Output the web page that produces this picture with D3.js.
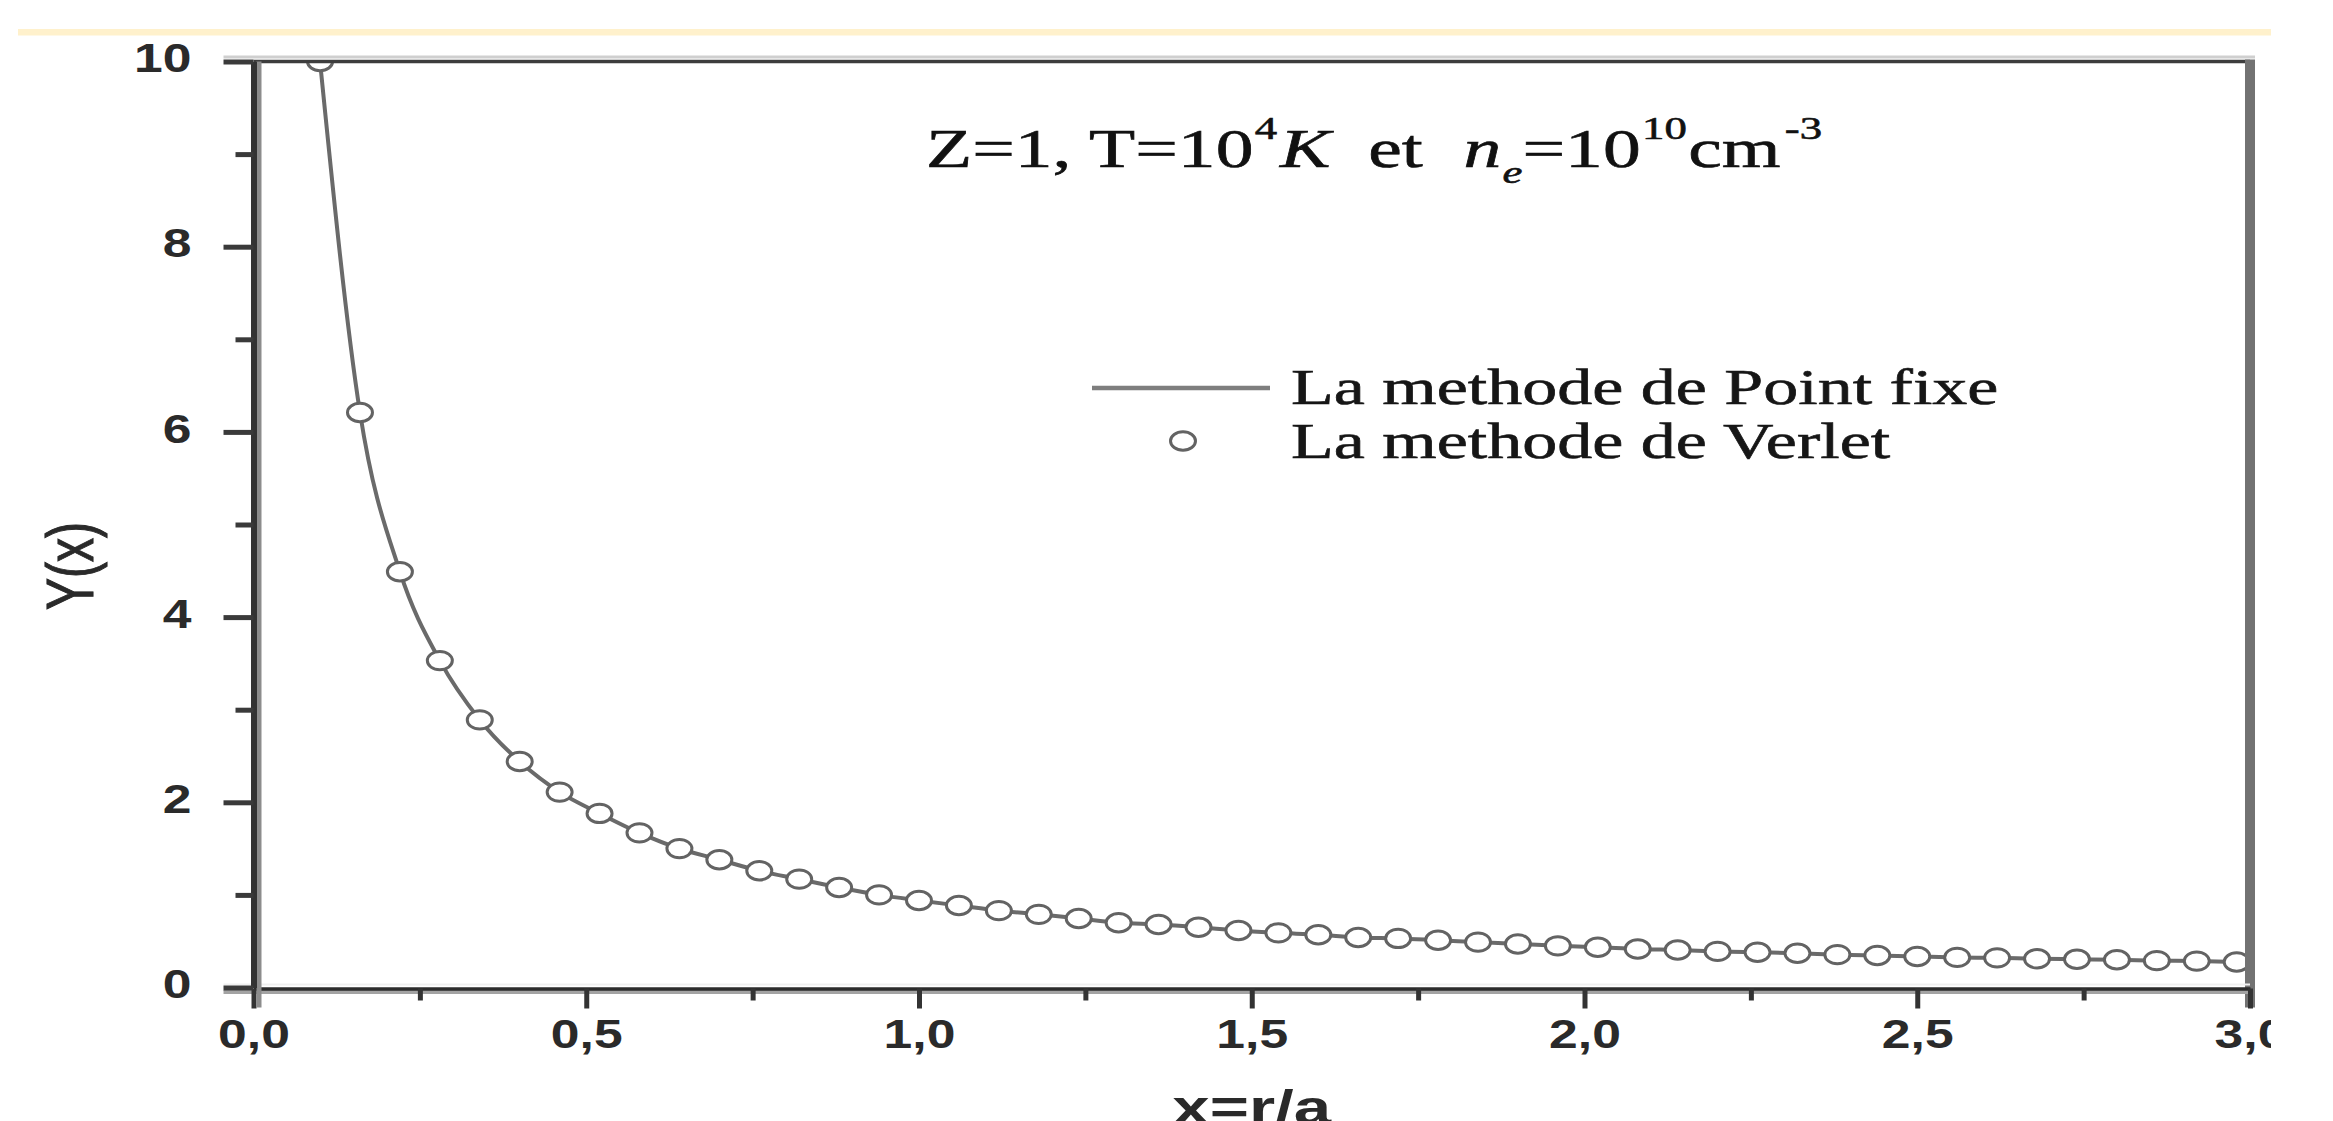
<!DOCTYPE html>
<html>
<head>
<meta charset="utf-8">
<script src="https://cdn.jsdelivr.net/npm/d3@7"></script>
<style>
	body {margin: 0; background: #fff; overflow: hidden;}
	svg {display: block;}
</style>
</head>
<body>
<div id="graph"></div>
<script>
// Points (x = r/a, Y(x))
var x_values = [0.10, 0.16, 0.22, 0.28, 0.34, 0.40, 0.46, 0.52, 0.58, 0.64,
	0.70, 0.76, 0.82, 0.88, 0.94, 1.00, 1.06, 1.12, 1.18, 1.24,
	1.30, 1.36, 1.42, 1.48, 1.54, 1.60, 1.66, 1.72, 1.78, 1.84,
	1.90, 1.96, 2.02, 2.08, 2.14, 2.20, 2.26, 2.32, 2.38, 2.44,
	2.50, 2.56, 2.62, 2.68, 2.74, 2.80, 2.86, 2.92, 2.98];
var y_values = [10.0, 6.21, 4.49, 3.53, 2.89, 2.44, 2.11, 1.88, 1.67, 1.50,
	1.38, 1.26, 1.17, 1.08, 1.00, 0.94, 0.885, 0.83, 0.79, 0.745,
	0.70, 0.68, 0.65, 0.615, 0.59, 0.57, 0.54, 0.53, 0.51, 0.49,
	0.47, 0.45, 0.435, 0.415, 0.405, 0.39, 0.38, 0.37, 0.355, 0.345,
	0.335, 0.325, 0.32, 0.31, 0.305, 0.30, 0.29, 0.285, 0.275];

var x_ticks = [0, 0.5, 1, 1.5, 2, 2.5, 3];
var x_tick_labels = ["0,0", "0,5", "1,0", "1,5", "2,0", "2,5", "3,0"];
var x_minor = [0.25, 0.75, 1.25, 1.75, 2.25, 2.75];
var y_ticks = [0, 2, 4, 6, 8, 10];
var y_tick_labels = ["0", "2", "4", "6", "8", "10"];
var y_minor = [1, 3, 5, 7, 9];

var title_parts = ["Z=1, T=10", "4", "K", "et", "n", "e", "=10", "10", "cm", "-3"];
var legend_labels = ["La methode de Point fixe", "La methode de Verlet"];
var x_label = "x=r/a";
var y_label = "Y(x)";

var width = 2333, height = 1121;
var sx = 1.4;		// the scanned figure is stretched sideways
var tick_sx = 1.26;	// tick digits look a bit narrower
var sans = "'Liberation Sans', Arial, sans-serif";
var serif = "'Liberation Serif', 'Times New Roman', serif";

var scale_x = d3.scaleLinear().domain([0, 3]).range([253.5, 2250]);
var scale_y = d3.scaleLinear().domain([0, 10]).range([987.5, 61.5]);

var svg = d3.select("#graph").append("svg")
	.attr("width", width)
	.attr("height", height);

var defs = svg.append("defs");
defs.append("clipPath").attr("id", "page")
	.append("rect").attr("x", 0).attr("y", 0).attr("width", 2271).attr("height", height);
defs.append("clipPath").attr("id", "plot")
	.append("rect")
	.attr("x", scale_x(0)).attr("y", scale_y(10))
	.attr("width", scale_x(3) - scale_x(0))
	.attr("height", scale_y(0) - scale_y(10));

var g = svg.append("g").attr("clip-path", "url(#page)");

// pale yellow strip at the top of the scan
g.append("rect")
	.attr("x", 18).attr("y", 29)
	.attr("width", 2253).attr("height", 6.5)
	.attr("fill", "#fff1cc");

// Curve + markers
var line = d3.line()
	.x(function(d, i) {return scale_x(x_values[i]);})
	.y(function(d) {return scale_y(d);})
	.curve(d3.curveMonotoneX);

var plot = g.append("g").attr("clip-path", "url(#plot)");

plot.append("path")
	.attr("fill", "none")
	.attr("stroke", "#6a6a6a")
	.attr("stroke-width", 4)
	.attr("d", line(y_values));

plot.selectAll("ellipse")
	.data(y_values)
	.enter()
	.append("ellipse")
	.attr("cx", function(d, i) {return scale_x(x_values[i]);})
	.attr("cy", function(d) {return scale_y(d);})
	.attr("rx", 12.5)
	.attr("ry", 9.2)
	.attr("fill", "#fff")
	.attr("stroke", "#636363")
	.attr("stroke-width", 3);

// Frame: top and right
g.append("line")
	.attr("x1", scale_x(0) - 30).attr("x2", scale_x(3) + 5)
	.attr("y1", scale_y(10) - 4.5).attr("y2", scale_y(10) - 4.5)
	.attr("stroke", "#cfcfcf").attr("stroke-width", 3);
g.append("line")
	.attr("x1", scale_x(0)).attr("x2", scale_x(3))
	.attr("y1", scale_y(10)).attr("y2", scale_y(10))
	.attr("stroke", "#3d3d3d").attr("stroke-width", 3.5);
g.append("line")
	.attr("x1", scale_x(3)).attr("x2", scale_x(3))
	.attr("y1", scale_y(10) - 2).attr("y2", scale_y(0) + 20)
	.attr("stroke", "#727272").attr("stroke-width", 10);

// Bottom axis
g.append("line")
	.attr("x1", scale_x(0) - 30).attr("x2", scale_x(3))
	.attr("y1", scale_y(0) - 3).attr("y2", scale_y(0) - 3)
	.attr("stroke", "#efefef").attr("stroke-width", 2);
g.append("line")
	.attr("x1", scale_x(0) - 30).attr("x2", scale_x(3))
	.attr("y1", scale_y(0) + 4.5).attr("y2", scale_y(0) + 4.5)
	.attr("stroke", "#a3a3a3").attr("stroke-width", 4);

var x_axis = g.append("g")
	.attr("transform", "translate(0," + (scale_y(0) + 1) + ")")
	.call(d3.axisBottom(scale_x).tickValues(x_ticks).tickSize(20).tickSizeOuter(0).tickFormat(""));
x_axis.select(".domain").attr("stroke", "#2b2b2b").attr("stroke-width", 3.5);
x_axis.selectAll(".tick line").attr("stroke", "#333").attr("stroke-width", 5);

var x_axis_minor = g.append("g")
	.attr("transform", "translate(0," + (scale_y(0) + 1) + ")")
	.call(d3.axisBottom(scale_x).tickValues(x_minor).tickSize(12).tickFormat(""));
x_axis_minor.select(".domain").remove();
x_axis_minor.selectAll(".tick line").attr("stroke", "#333").attr("stroke-width", 5);

var x_axis_labels = g.append("g")
	.attr("transform", "translate(0," + (scale_y(0) + 1) + ")")
	.call(d3.axisBottom(scale_x).tickValues(x_ticks).tickSize(0)
		.tickFormat(function(d, i) {return x_tick_labels[i];}));
x_axis_labels.select(".domain").remove();
x_axis_labels.selectAll("text")
	.attr("y", 30)
	.attr("transform", "scale(" + tick_sx + ",1)")
	.style("font-family", sans)
	.style("font-weight", "bold")
	.style("font-size", "41px")
	.style("fill", "#2a2a2a");

// Left axis
g.append("line")
	.attr("x1", scale_x(0) + 5.5).attr("x2", scale_x(0) + 5.5)
	.attr("y1", scale_y(10)).attr("y2", scale_y(0) + 20)
	.attr("stroke", "#8c8c8c").attr("stroke-width", 5);

var y_axis = g.append("g")
	.attr("transform", "translate(" + scale_x(0) + ",0)")
	.call(d3.axisLeft(scale_y).tickValues(y_ticks).tickSize(30).tickSizeOuter(0).tickFormat(""));
y_axis.select(".domain").attr("stroke", "#333").attr("stroke-width", 6);
y_axis.selectAll(".tick line").attr("stroke", "#3a3a3a").attr("stroke-width", 5);

var y_axis_minor = g.append("g")
	.attr("transform", "translate(" + scale_x(0) + ",0)")
	.call(d3.axisLeft(scale_y).tickValues(y_minor).tickSize(18).tickFormat(""));
y_axis_minor.select(".domain").remove();
y_axis_minor.selectAll(".tick line").attr("stroke", "#3a3a3a").attr("stroke-width", 5);

var y_axis_labels = g.append("g")
	.attr("transform", "translate(" + scale_x(0) + ",0)")
	.call(d3.axisLeft(scale_y).tickValues(y_ticks).tickSize(0)
		.tickFormat(function(d, i) {return y_tick_labels[i];}));
y_axis_labels.select(".domain").remove();
y_axis_labels.selectAll("text")
	.attr("x", -62 / tick_sx)
	.attr("dy", "0.25em")
	.attr("transform", "scale(" + tick_sx + ",1)")
	.style("font-family", sans)
	.style("font-weight", "bold")
	.style("font-size", "41px")
	.style("fill", "#2a2a2a");

// Axis titles
g.append("text")
	.attr("transform", "translate(" + ((scale_x(0) + scale_x(3)) / 2) + ",1124) scale(" + sx + ",1)")
	.style("text-anchor", "middle")
	.style("font-family", sans)
	.style("font-weight", "bold")
	.style("font-size", "48px")
	.style("fill", "#2a2a2a")
	.text(x_label);

g.append("text")
	.attr("transform", "translate(93,566) scale(" + sx + ",1) rotate(-90)")
	.style("text-anchor", "middle")
	.style("font-family", sans)
	.style("font-size", "48px")
	.style("fill", "#2a2a2a")
	.style("stroke", "#2a2a2a")
	.style("stroke-width", 0.8)
	.text(y_label);

// Title inside the plot
var title = g.append("text")
	.attr("transform", "translate(926,167) scale(" + sx + ",1)")
	.style("font-family", serif)
	.style("font-size", "54px")
	.style("fill", "#111")
	.style("stroke", "#111")
	.style("stroke-width", 0.6);
title.append("tspan").text(title_parts[0]);
title.append("tspan").attr("dy", -28).attr("dx", 1).style("font-size", "32px").text(title_parts[1]);
title.append("tspan").attr("dy", 28).attr("dx", 2).style("font-style", "italic").text(title_parts[2]);
title.append("tspan").attr("dx", 27).text(title_parts[3]);
title.append("tspan").attr("dx", 29).style("font-style", "italic").text(title_parts[4]);
title.append("tspan").attr("dy", 16).attr("dx", 1).style("font-size", "32px").style("font-style", "italic").text(title_parts[5]);
title.append("tspan").attr("dy", -16).text(title_parts[6]);
title.append("tspan").attr("dy", -28).attr("dx", 1).style("font-size", "32px").text(title_parts[7]);
title.append("tspan").attr("dy", 28).attr("dx", 1).text(title_parts[8]);
title.append("tspan").attr("dy", -28).attr("dx", 3).style("font-size", "32px").text(title_parts[9]);

// Legend
g.append("line")
	.attr("x1", 1092).attr("x2", 1270)
	.attr("y1", 388).attr("y2", 388)
	.attr("stroke", "#7e7e7e")
	.attr("stroke-width", 4.5);
g.append("ellipse")
	.attr("cx", 1183).attr("cy", 441)
	.attr("rx", 12.5).attr("ry", 9.2)
	.attr("fill", "#fff")
	.attr("stroke", "#636363")
	.attr("stroke-width", 3);
g.selectAll(".legend-text")
	.data(legend_labels)
	.enter()
	.append("text")
	.attr("class", "legend-text")
	.attr("transform", function(d, i) {return "translate(1291," + (404 + i * 54) + ") scale(" + sx + ",1)";})
	.style("font-family", serif)
	.style("font-size", "50px")
	.style("fill", "#161616")
	.style("stroke", "#161616")
	.style("stroke-width", 0.6)
	.text(function(d) {return d;});
</script>
</body>
</html>
